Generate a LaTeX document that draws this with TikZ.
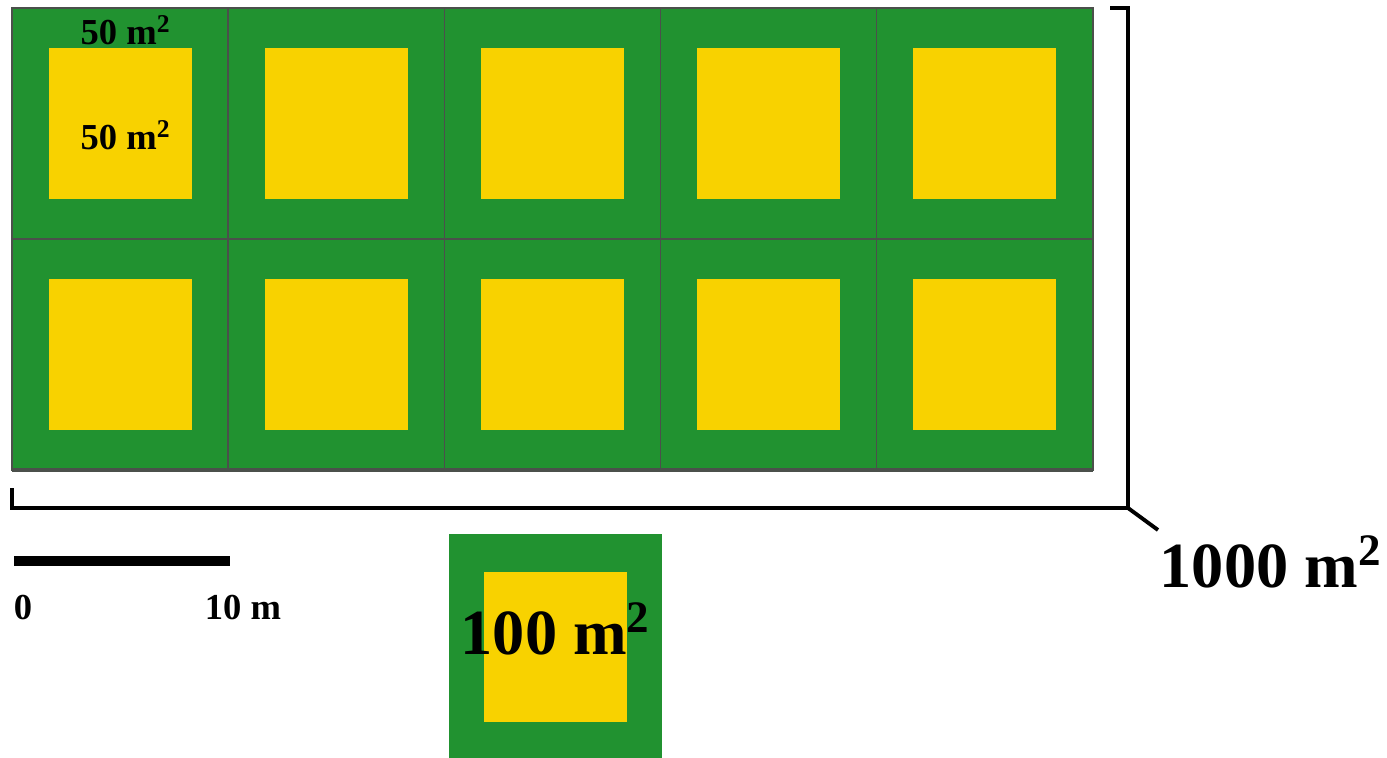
\documentclass[tikz,border=0pt]{standalone}
\usepackage{fontspec}
\setmainfont{Liberation Serif}
\definecolor{plotgreen}{RGB}{33,146,48}
\definecolor{plotyellow}{RGB}{248,210,0}
\definecolor{gridgray}{RGB}{75,80,75}
\tikzset{
  cell/.style={fill=plotgreen, draw=gridgray, line width=0.4pt, minimum width=2.162cm, minimum height=2.31cm, inner sep=0pt, outer sep=0pt},
  core/.style={fill=plotyellow, minimum width=1.43cm, minimum height=1.51cm, inner sep=0pt, outer sep=0pt},
  small/.style={font=\fontsize{10.4}{12}\selectfont\bfseries, inner sep=0pt, anchor=base},
  big/.style={font=\fontsize{18.3}{20}\selectfont\bfseries, inner sep=0pt, anchor=base},
  bracket/.style={line width=1.1pt, black}
}
\begin{document}
\begin{tikzpicture}[x=0.01cm, y=-0.01cm]
\useasboundingbox (0,0) rectangle (1387,758);
% grid of plots
\foreach \r in {1,2} {
  \foreach \c in {1,...,5} {
    \node[cell] (cell-\r-\c) at ({12+108.1+216.2*(\c-1)}, {8+115.5+231*(\r-1)}) {};
    \node[core] (core-\r-\c) at (cell-\r-\c.center) {};
  }
}
\draw[gridgray, line width=1.2pt] (cell-2-1.south west) -- (cell-2-5.south east);
% labels in the first plot
\node[small] (lab-out) at (126,45) {50 m\textsuperscript{2}};
\node[small] (lab-in) at (126,150) {50 m\textsuperscript{2}};
% bracket
\coordinate (bt0) at (1110,8);
\coordinate (bt1) at (1128,8);
\coordinate (bc) at (1128,508);
\coordinate (bl) at (12,508);
\coordinate (bl0) at (12,488);
\coordinate (bd) at (1158,530);
\draw[bracket] (bt0) -- (bt1) -- (bc) -- (bl) -- (bl0);
\draw[bracket] (bc) -- (bd);
\node[big] (lab-total) at (1271,588) {1000 m\textsuperscript{2}};
% scale bar
\coordinate (s0) at (14,561);
\coordinate (s1) at (230,561);
\draw[line width=2.6pt, black] (s0) -- (s1);
\node[small] (lab-0) at (23,620) {0};
\node[small] (lab-10) at (243,620) {10 m};
% single plot
\node[fill=plotgreen, minimum width=2.13cm, minimum height=2.26cm, inner sep=0pt] (single) at (555.5,647) {};
\node[core, minimum width=1.42cm, minimum height=1.50cm] (single-core) at (single.center) {};
\node[big] (lab-single) at (556,655) {100 m\textsuperscript{2}};
\end{tikzpicture}
\end{document}
